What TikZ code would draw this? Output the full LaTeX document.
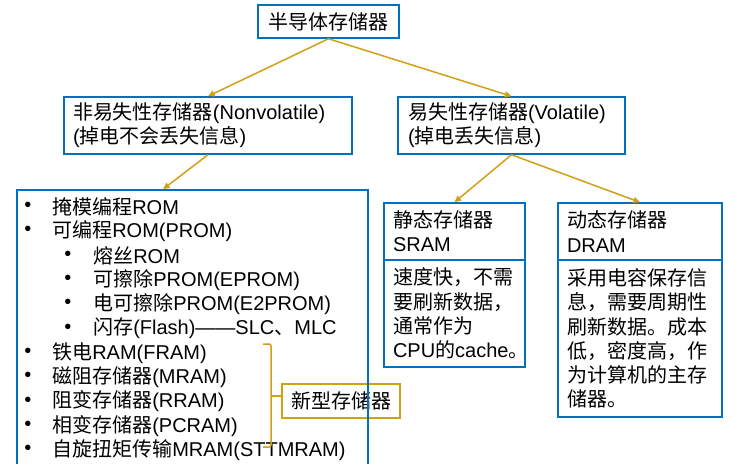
\documentclass[tikz,border=0pt]{standalone}
\usepackage{fontspec}
\setmainfont{Liberation Sans}
\newfontfamily\cjk{Noto Sans CJK SC}
\usetikzlibrary{arrows.meta}
\newdimen\px \px=0.75pt
\newcommand{\zh}[1]{{\cjk #1}}
\definecolor{boxblue}{RGB}{0,112,192}
\definecolor{linegold}{RGB}{210,160,20}
\tikzset{%
    every node/.style={font=\fontsize{15pt}{18.2pt}\selectfont, inner sep=0pt},
    box/.style={draw=boxblue, line width=1.5\px, align=left},
    link/.style={draw=linegold, line width=1.5\px,
        -{Triangle[length=5pt, width=4.5pt]}},
    brace/.style={draw=linegold, line width=1.5\px, rounded corners=1.5pt}
}

\begin{document}
\begin{tikzpicture}[x=0.75pt, y=-0.75pt]
  \useasboundingbox (0,0) rectangle (744,464);
  \clip (0,0) rectangle (744,464);

  \node (semi) [box, align=center, minimum width=141\px, minimum height=33\px]
    at (328.5, 21.5) {\zh{半导体存储器}};
  \node (nonvol) [box, minimum width=288\px, minimum height=57\px, text width=270\px]
    at (208, 125.5) {\zh{非易失性存储器}(Nonvolatile)\\(\zh{掉电不会丢失信息})};
  \node (vol) [box, minimum width=227\px, minimum height=57\px, text width=207\px]
    at (511.5, 125.5) {\zh{易失性存储器}(Volatile)\\(\zh{掉电丢失信息})};

  \node (sramhead) [box, minimum width=141\px, minimum height=57\px, text width=123\px]
    at (454.5, 231.5) {\zh{静态存储器}\\SRAM};
  \node (srambody) [box, minimum width=141\px, minimum height=107\px, text width=123\px]
    at (454.5, 313.5) {\zh{速度快，不需}\\\zh{要刷新数据，}\\\zh{通常作为}\\CPU\zh{的}cache\zh{。}};
  \node (dramhead) [box, minimum width=164\px, minimum height=57\px, text width=146\px]
    at (640, 231.5) {\zh{动态存储器}\\DRAM};
  \node (drambody) [box, minimum width=164\px, minimum height=157\px, text width=146\px]
    at (640, 338.5) {\zh{采用电容保存信}\\\zh{息，需要周期性}\\\zh{刷新数据。成本}\\\zh{低，密度高，作}\\\zh{为计算机的主存}\\\zh{储器。}};

  \node (newmem) [draw=linegold, line width=1.5\px, minimum width=118\px, minimum height=34\px]
    at (341, 401) {\zh{新型存储器}};
  \node (list) [box, minimum width=351\px, minimum height=290\px] at (192.5, 335) {};

  % list entries
  \foreach \lvl/\txt [count=\i from 0] in {
      1/\zh{掩模编程}ROM,
      1/\zh{可编程}ROM(PROM),
      2/\zh{熔丝}ROM,
      2/\zh{可擦除}PROM(EPROM),
      2/\zh{电可擦除}PROM(E2PROM),
      2/\zh{闪存}(Flash)——SLC\zh{、}MLC,
      1/\zh{铁电}RAM(FRAM),
      1/\zh{磁阻存储器}(MRAM),
      1/\zh{阻变存储器}(RRAM),
      1/\zh{相变存储器}(PCRAM),
      1/\zh{自旋扭矩传输}MRAM(STTMRAM)} {
    \node (dot\i) at ({28+40*(\lvl-1)}, {207+24.3*\i}) {\textbullet};
    \node (item\i) [anchor=west] at ({52+41*(\lvl-1)}, {207+24.3*\i}) {\txt};
  }

  \coordinate (brtop) at (263, 344);
  \coordinate (brmid) at (271, 396);
  \coordinate (brbot) at (263, 447);
  \draw [brace] (brtop) -| (brmid) |- (brbot);
  \draw [brace] (brmid) -- (brmid -| newmem.west);

  \draw [link] (semi.south) -- (nonvol.north);
  \draw [link] (semi.south) -- (vol.north);
  \draw [link] (nonvol.south) -- ([xshift=-29.5\px]list.north);
  \draw [link] (vol.south) -- (sramhead.north);
  \draw [link] (vol.south) -- (dramhead.north);
\end{tikzpicture}
\end{document}
